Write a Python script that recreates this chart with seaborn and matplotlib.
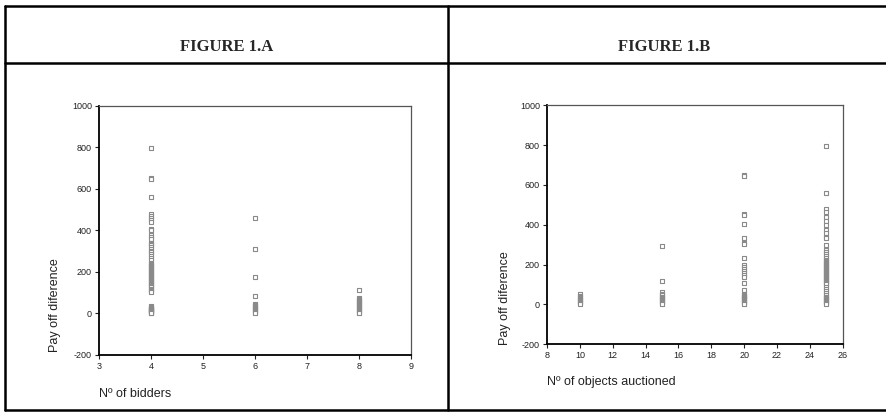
import pandas as pd
import matplotlib
matplotlib.use('Agg')
import matplotlib.pyplot as plt
import seaborn as sns
from matplotlib.lines import Line2D

# Pay off difference
bidders_4 = [795, 650, 645, 560, 480, 470, 460, 450, 440, 405, 400, 380, 370, 360,
             340, 335, 330, 320, 310, 300, 295, 285, 275, 265, 255, 245, 240, 235,
             230, 225, 220, 215, 210, 205, 200, 195, 190, 185, 180, 175, 170, 165,
             160, 155, 150, 145, 140, 135, 130, 125, 120, 115, 110, 105,
             35, 30, 28, 25, 22, 20, 18, 15, 12, 10, 8, 5, 3, 0]
bidders_6 = [460, 310, 175, 85, 45, 40, 35, 30, 25, 20, 15, 10, 5, 0]
bidders_8 = [115, 75, 70, 65, 60, 55, 50, 45, 40, 35, 30, 25, 20, 15, 10, 5, 0]

objects_10 = [55, 45, 38, 30, 25, 20, 15, 10, 5, 0]
objects_15 = [295, 120, 62, 55, 48, 40, 35, 30, 25, 20, 15, 10, 5, 0]
objects_20 = [650, 645, 455, 450, 405, 335, 310, 305, 235, 200, 190, 180, 170, 160,
              150, 140, 110, 72, 55, 50, 45, 40, 35, 30, 25, 20, 15, 10, 5, 0]
objects_25 = [795, 560, 480, 465, 440, 420, 400, 375, 360, 340, 335, 300, 275, 265,
              255, 245, 235, 225, 220, 215, 210, 205, 200, 195, 190, 185, 180, 175,
              170, 165, 160, 155, 150, 145, 140, 135, 130, 125, 120, 115, 110, 105,
              90, 80, 70, 60, 50, 40, 35, 30, 25, 20, 15, 10, 5, 0]

df_a = pd.DataFrame({
    'bidders': [4] * len(bidders_4) + [6] * len(bidders_6) + [8] * len(bidders_8),
    'payoff': bidders_4 + bidders_6 + bidders_8,
})
df_b = pd.DataFrame({
    'objects': [10] * len(objects_10) + [15] * len(objects_15)
               + [20] * len(objects_20) + [25] * len(objects_25),
    'payoff': objects_10 + objects_15 + objects_20 + objects_25,
})

sns.set_style('white')
plt.rcParams['font.family'] = ['Liberation Sans', 'DejaVu Sans']
plt.rcParams['axes.unicode_minus'] = False

W, H = 886, 412
fig = plt.figure(figsize=(W / 100, H / 100), dpi=100)


def px_axes(x0, x1, ytop, ybot):
    return fig.add_axes([x0 / W, 1 - ybot / H, (x1 - x0) / W, (ybot - ytop) / H])


gray = '#8a8a8a'


def style_axes(ax, xlim, xticks):
    ax.set_xlim(*xlim)
    ax.set_ylim(-200, 1000)
    ax.set_xticks(xticks)
    ax.set_yticks(range(-200, 1001, 200))
    ax.tick_params(axis='both', direction='out', length=3, width=0.8,
                   labelsize=6.5, colors='#222222', pad=2, bottom=True, left=True)
    ax.set_xlabel('')
    ax.set_ylabel('')
    for side in ['left', 'bottom']:
        ax.spines[side].set_color('black')
        ax.spines[side].set_linewidth(1.3)
    for side in ['top', 'right']:
        ax.spines[side].set_color('#555555')
        ax.spines[side].set_linewidth(0.9)


ax1 = px_axes(99, 411, 105.7, 355)
sns.scatterplot(data=df_a, x='bidders', y='payoff', ax=ax1, marker='s', s=9,
                facecolor='white', edgecolor=gray, linewidth=0.8, legend=False)
style_axes(ax1, (3, 9), range(3, 10))

ax2 = px_axes(547, 842.7, 105.3, 344.3)
sns.scatterplot(data=df_b, x='objects', y='payoff', ax=ax2, marker='s', s=9,
                facecolor='white', edgecolor=gray, linewidth=0.8, legend=False)
style_axes(ax2, (8, 26), range(8, 27, 2))

# axis labels placed like the original
fig.text(55 / W, 1 - 305 / H, 'Pay off diference', rotation=90, ha='center',
         va='center', fontsize=9, color='#222222')
fig.text(505 / W, 1 - 298 / H, 'Pay off diference', rotation=90, ha='center',
         va='center', fontsize=9, color='#222222')
fig.text(99 / W, 1 - 394 / H, 'Nº of bidders', ha='left', va='center',
         fontsize=9, color='#222222')
fig.text(547 / W, 1 - 381.5 / H, 'Nº of objects auctioned', ha='left',
         va='center', fontsize=9, color='#222222')

# table frame around the two panels
frame = dict(color='black', linewidth=1.8, transform=fig.transFigure)
fig.add_artist(Line2D([5 / W, 1], [1 - 5.7 / H] * 2, **frame))
fig.add_artist(Line2D([5 / W, 1], [1 - 62.7 / H] * 2, **frame))
fig.add_artist(Line2D([5 / W, 1], [1 - 410 / H] * 2, **frame))
fig.add_artist(Line2D([5 / W] * 2, [1 - 5.7 / H, 1 - 410 / H], **frame))
fig.add_artist(Line2D([448 / W] * 2, [1 - 5.7 / H, 1 - 410 / H], **frame))

fig.text(226.5 / W, 1 - 47 / H, 'FIGURE 1.A', ha='center', va='center',
         fontsize=12, fontweight='bold', family=['Liberation Serif', 'DejaVu Serif'])
fig.text(664 / W, 1 - 47 / H, 'FIGURE 1.B', ha='center', va='center',
         fontsize=12, fontweight='bold', family=['Liberation Serif', 'DejaVu Serif'])

fig.savefig('out.png', dpi=100)
